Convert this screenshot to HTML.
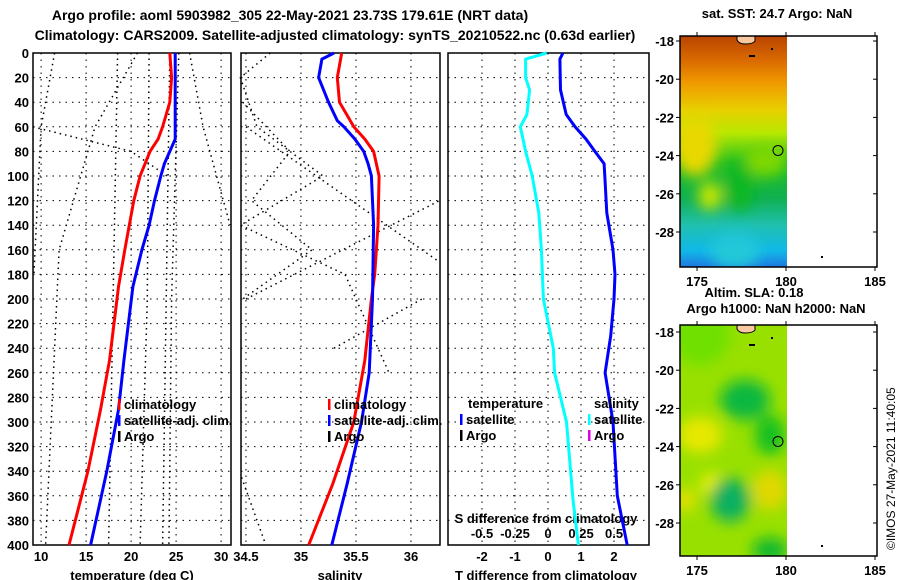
<!DOCTYPE html>
<html><head><meta charset="utf-8"><style>
html,body{margin:0;padding:0;background:#fff}
svg{display:block;font-family:"Liberation Sans",sans-serif;font-weight:bold}
</style></head><body>
<svg id="c" width="900" height="580" viewBox="0 0 900 580" xmlns="http://www.w3.org/2000/svg">
<defs>
<filter id="bl" x="-50%" y="-50%" width="200%" height="200%"><feGaussianBlur stdDeviation="7"/></filter>
<linearGradient id="sstg" x1="0" y1="0" x2="0" y2="1">
<stop offset="0" stop-color="#b84400"/><stop offset="0.1" stop-color="#d86800"/><stop offset="0.2" stop-color="#f09800"/>
<stop offset="0.32" stop-color="#e8d000"/><stop offset="0.42" stop-color="#b8e800"/><stop offset="0.55" stop-color="#20c020"/>
<stop offset="0.7" stop-color="#10b050"/><stop offset="0.82" stop-color="#20c0b0"/><stop offset="0.93" stop-color="#10b8e8"/><stop offset="1" stop-color="#2078e0"/>
</linearGradient>
<clipPath id="m1c"><rect x="680" y="36" width="107" height="231"/></clipPath>
<clipPath id="m2c"><rect x="680" y="325" width="107" height="231"/></clipPath>
</defs>
<text x="290" y="20" font-size="14" text-anchor="middle">Argo profile: aoml 5903982_305 22-May-2021 23.73S 179.61E (NRT data)</text>
<text x="335" y="40" font-size="14" text-anchor="middle">Climatology: CARS2009. Satellite-adjusted climatology: synTS_20210522.nc (0.63d earlier)</text>
<g id="g"></g>
<text transform="translate(895,550) rotate(-90)" font-size="12" font-weight="normal">©IMOS 27-May-2021 11:40:05</text>
</svg>
<script>
// ---- data ----
const depthTicks=[0,20,40,60,80,100,120,140,160,180,200,220,240,260,280,300,320,340,360,380,400];
const tempTicks=[10,15,20,25,30];
const salTicks=[34.5,35,35.5,36];
const tdTicks=[-2,-1,0,1,2];
const sdTicks=[-0.5,-0.25,0,0.25,0.5];
const sdTickLabels=["-0.5","-0.25","0","0.25","0.5"];
const tClimDepth=[0,20,40,50,60,70,80,100,120,140,160,190,220,250,290,340,400];
const tClim=[24.3,24.5,24.3,23.9,23.5,23.0,22.1,21.0,20.3,19.8,19.3,18.6,18.1,17.6,16.6,15.2,13.1];
const tSatDepth=[0,20,40,60,70,80,90,100,120,140,160,190,220,250,290,340,400];
const tSat=[24.9,24.9,24.9,24.9,24.9,24.3,23.7,23.3,22.6,22.0,21.2,20.2,19.7,19.2,18.6,17.3,15.5];
const sClimDepth=[0,20,40,60,70,80,100,140,180,200,250,300,350,400];
const sClim=[35.37,35.33,35.35,35.48,35.58,35.66,35.71,35.70,35.67,35.64,35.58,35.48,35.29,35.07];
const sSatDepth=[0,5,20,40,55,60,70,80,90,100,140,200,260,300,350,400];
const sSat=[35.30,35.19,35.16,35.25,35.33,35.39,35.49,35.57,35.61,35.64,35.66,35.65,35.62,35.55,35.42,35.28];
const tdDepth=[0,5,30,50,60,70,80,90,100,130,160,180,200,230,260,300,360,400];
const tDiff=[0.45,0.36,0.38,0.55,0.82,1.15,1.42,1.70,1.72,1.78,1.97,2.03,2.0,1.9,1.73,1.97,2.1,2.4];
const sdDepth=[0,5,20,30,50,60,70,80,100,130,160,200,240,260,300,364,400];
const sDiff=[-0.01,-0.17,-0.17,-0.14,-0.16,-0.21,-0.19,-0.17,-0.12,-0.07,-0.05,-0.035,0.04,0.05,0.14,0.19,0.23];
// other-profile dotted lines (approx)
const dotT=[[[0,11.5],[60,10],[180,9.2]],[[0,20.7],[60,16],[160,12],[400,10.5]],[[0,22],[200,21.8],[400,21]],[[0,26.5],[60,28],[140,31]],[[60,9.1],[80,20],[100,24]],[[0,25.3],[200,24.5],[400,24.2]],[[0,24.3],[400,23.5]],[[0,18.5],[400,17.5]]];
const dotS=[[[0,34.72],[20,34.45],[60,34.6],[100,35.2],[140,34.45],[180,35.4],[260,35.8]],[[40,34.47],[80,34.9],[120,34.55],[160,35.1],[200,34.47]],[[200,34.5],[120,36.26]],[[60,34.5],[170,36.26]],[[240,35.3],[200,36.1]],[[345,34.46],[400,34.68]]];

const NS='http://www.w3.org/2000/svg';
const G=document.getElementById('g');
function mk(tag,at,par){const e=document.createElementNS(NS,tag);for(const k in at)e.setAttribute(k,at[k]);(par||G).appendChild(e);return e;}
const Y0=53,Y1=545;
function yD(d){return Y0+(d/400)*(Y1-Y0);}
const P1={x0:33,x1:231,v0:9.1,v1:31.1};
const P2={x0:241,x1:440,v0:34.455,v1:36.264};
const P3={x0:448,x1:649,v0:-3.03,v1:3.06};
const P3s={v0:-0.758,v1:0.765};
function xs(p,v){return p.x0+(v-p.v0)/(p.v1-p.v0)*(p.x1-p.x0);}
function xs3s(v){return P3.x0+(v-P3s.v0)/(P3s.v1-P3s.v0)*(P3.x1-P3.x0);}

function frame(p,name,ticks,labels){
  const fr=mk('rect',{x:p.x0,y:Y0,width:p.x1-p.x0,height:Y1-Y0,fill:'none',stroke:'#000','stroke-width':1.5});
  
  
  depthTicks.forEach(d=>{ if(d>0&&d<400){const l=mk('line',{x1:p.x0,x2:p.x1,y1:yD(d),y2:yD(d),stroke:'#000','stroke-dasharray':'1.5,5'});
    
    }});
  ticks.forEach((v,i)=>{const x=xs(p,v);
    const l=mk('line',{x1:x,x2:x,y1:Y0,y2:Y1,stroke:'#000','stroke-dasharray':'1.5,5'});
    
    
    const t=mk('text',{x:x,y:Y1+16,'font-size':13,'text-anchor':'middle'});
    t.textContent=labels?labels[i]:String(v);
    
    
  });
}
function line(p,dep,vals,col,w,name,fx){
  const pts=dep.map((d,i)=>(fx?fx(vals[i]):xs(p,vals[i])).toFixed(1)+','+yD(d).toFixed(1)).join(' ');
  const e=mk('polyline',{points:pts,fill:'none',stroke:col,'stroke-width':w});
  
  
}
function dotted(p,arr,name){arr.forEach(s=>{
  const pts=s.map(q=>xs(p,q[1]).toFixed(1)+','+yD(q[0]).toFixed(1)).join(' ');
  const e=mk('polyline',{points:pts,fill:'none',stroke:'#000','stroke-width':1.5,'stroke-dasharray':'1.5,4'});
  
  });}
function txt(x,y,s,name,opt){const t=mk('text',Object.assign({x:x,y:y,'font-size':13},opt||{}));t.textContent=s;
  
  return t;}

// panel 1
frame(P1,'temperature-panel',tempTicks);
depthTicks.forEach(d=>{txt(29,yD(d)+5,String(d),'depth-tick-label',{'text-anchor':'end'});});
dotted(P1,dotT,'other-temperature-profile');
line(P1,tClimDepth,tClim,'#f00',3,'temperature-climatology-line');
line(P1,tSatDepth,tSat,'#00f',3,'temperature-satellite-line');
txt(132,580,'temperature (deg C)','temperature-axis-title',{'text-anchor':'middle'});
// panel 2
frame(P2,'salinity-panel',salTicks);
dotted(P2,dotS,'other-salinity-profile');
line(P2,sClimDepth,sClim,'#f00',3,'salinity-climatology-line');
line(P2,sSatDepth,sSat,'#00f',3,'salinity-satellite-line');
txt(340,580,'salinity','salinity-axis-title',{'text-anchor':'middle'});
// panel 3
frame(P3,'difference-panel',tdTicks);
sdTicks.forEach((v,i)=>{txt(xs3s(v),538,sdTickLabels[i],'s-diff-tick-label',{'text-anchor':'middle'});});
txt(546,523,'S difference from climatology','s-diff-axis-title',{'text-anchor':'middle'});
line(P3,sdDepth,sDiff,'#0ff',3,'salinity-difference-line',xs3s);
line(P3,tdDepth,tDiff,'#00f',3,'temperature-difference-line');
txt(546,580,'T difference from climatology','t-diff-axis-title',{'text-anchor':'middle'});

// legends
function leg(x,y,col,s,name){const r=mk('rect',{x:x,y:y-10,width:2.5,height:11,fill:col});
  
  
  txt(x+6,y,s,name);}
leg(118,409,'#f00','climatology','legend-climatology');
leg(118,425,'#00f','satellite-adj. clim.','legend-satellite-adj');
leg(118,441,'#000','Argo','legend-argo');
leg(328,409,'#f00','climatology','legend-sal-climatology');
leg(328,425,'#00f','satellite-adj. clim.','legend-sal-satellite-adj');
leg(328,441,'#000','Argo','legend-sal-argo');
txt(468,408,'temperature','legend-temperature-header');
leg(460,424,'#00f','satellite','legend-temp-satellite');
leg(460,440,'#000','Argo','legend-temp-argo');
txt(594,408,'salinity','legend-salinity-header');
leg(588,424,'#0ff','satellite','legend-sal-satellite');
leg(588,440,'#e000e0','Argo','legend-sal-argo-diff');

// maps
function mapFrame(top,lat0py,name,clip,blobs,base){
  const g=mk('g',{'clip-path':'url(#'+clip+')'});
  
  
  mk('rect',{x:680,y:top,width:107,height:231,fill:base},g);
  const bg=mk('g',{filter:'url(#bl)'},g);
  blobs.forEach(b=>mk('ellipse',{cx:b[0],cy:top+b[1],rx:b[2],ry:b[3],fill:b[4]},bg));
  mk('path',{d:`M737 ${top} l0 4 q2 4 8 4 q8 0 10 -3 l0 -5 z`,fill:'#f8c8a0',stroke:'#000','stroke-width':1},g);
  mk('rect',{x:749,y:top+19,width:6,height:2,fill:'#000'},g);
  mk('rect',{x:771,y:top+12,width:2,height:2,fill:'#000'},g);
  const fr=mk('rect',{x:680,y:top,width:197,height:231,fill:'none',stroke:'#000','stroke-width':1.5});
  
  
  const pxLat=19.1;
  for(let k=0;k<=6;k++){const lat=-18-2*k;const y=lat0py+2*k*pxLat;
    if(y>top+231)break;
    mk('line',{x1:680,x2:676,y1:y,y2:y,stroke:'#000'});mk('line',{x1:877,x2:873,y1:y,y2:y,stroke:'#000'});
    if(k<6)txt(674,y+5,String(lat),name+'-lat-label',{'text-anchor':'end'});}
  [175,180,185].forEach(l=>{const x=697+(l-175)*17.8;
    mk('line',{x1:x,x2:x,y1:top,y2:top-4,stroke:'#000'});mk('line',{x1:x,x2:x,y1:top+231,y2:top+235,stroke:'#000'});
    txt(x,top+250,String(l),name+'-lon-label',{'text-anchor':'middle'});});
  const c=mk('circle',{cx:778,cy:lat0py+5.73*pxLat,r:5,fill:'none',stroke:'#000'});
  
  
  mk('rect',{x:821,y:top+220,width:2,height:2,fill:'#000'});
}
mapFrame(36,41,'sst-map','m1c',[[695,110,22,30,'#e8d800'],[710,160,12,14,'#c8e800'],[765,125,22,15,'#80d800'],[740,150,14,25,'#10b820'],[735,215,25,18,'#20c8d8']],'url(#sstg)');
mapFrame(325,332,'sla-map','m2c',[[700,10,30,30,'#70e000'],[745,75,25,20,'#10b840'],[770,110,15,20,'#18c020'],[700,110,22,18,'#e8e800'],[712,160,12,12,'#e8f000'],[730,175,20,22,'#10b060'],[770,165,18,20,'#e0d800'],[685,175,10,12,'#e8e000'],[770,225,18,12,'#10b830']],'#98e000');
txt(777,18,'sat. SST: 24.7 Argo: NaN','sst-map-title',{'text-anchor':'middle'});
txt(754,297,'Altim. SLA: 0.18','sla-title',{'text-anchor':'middle'});
txt(776,313,'Argo h1000: NaN h2000: NaN','argo-height-title',{'text-anchor':'middle'});
</script>
</body></html>
